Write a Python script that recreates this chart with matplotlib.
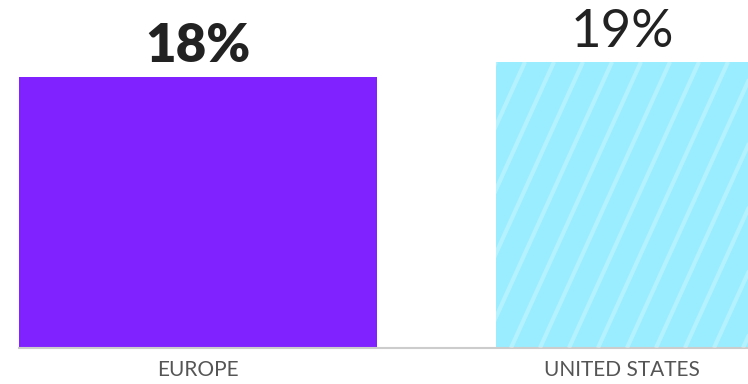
import matplotlib.pyplot as plt
import numpy as np
from matplotlib.collections import LineCollection
from matplotlib.transforms import IdentityTransform

regions = ['EUROPE', 'UNITED STATES']
shares = [18, 19]
share_labels = ['18%', '19%']
label_weights = ['heavy', 'normal']

colors = ['#8022ff', '#99edff']
bar_width = 0.75

fig = plt.figure(figsize=(7.48, 3.84), dpi=100)
ax = fig.add_axes([19 / 748, 36 / 384, 729 / 748, 348 / 384])

x = np.arange(len(regions))
bars = ax.bar(x, shares, width=bar_width, color=colors, zorder=2)

# second bar runs off the right edge
xmin = -bar_width / 2
xmax = xmin + 729 / 477
ax.set_xlim(xmin, xmax)
ax.set_ylim(0, 348 / 15.06)

# white diagonal stripes on the US bar, clipped to the bar
fig.canvas.draw()
us_bar = bars[1]
bb = us_bar.get_window_extent()
segs = []
slope = 2.2
h = bb.height
start = bb.x0 - h / slope
xs = np.arange(start, bb.x1 + 30, 29)
for x0 in xs:
    segs.append([(x0, bb.y0), (x0 + h / slope, bb.y1)])
stripes = LineCollection(segs, colors='white', alpha=0.28, linewidths=3,
                         transform=IdentityTransform(), zorder=3)
ax.add_collection(stripes)
stripes.set_clip_path(us_bar)

# label positions: centre of the visible part of each bar
centers = []
for xi in x:
    left = max(xi - bar_width / 2, xmin)
    right = min(xi + bar_width / 2, xmax)
    centers.append((left + right) / 2)

for c, v, lab, w in zip(centers, shares, share_labels, label_weights):
    ax.text(c, v + 0.4, lab, ha='center', va='bottom', fontsize=38,
            fontweight=w, family='Lato', color='#222222')

ax.set_xticks(centers)
ax.set_xticklabels(regions, family='Lato', fontweight='normal',
                   fontsize=15, color='#555555')
ax.tick_params(axis='x', length=0, pad=9)
ax.set_yticks([])

for s in ['top', 'right', 'left']:
    ax.spines[s].set_visible(False)
ax.spines['bottom'].set_color('#cccccc')
ax.spines['bottom'].set_linewidth(1.5)

fig.savefig('out.png', dpi=100)
